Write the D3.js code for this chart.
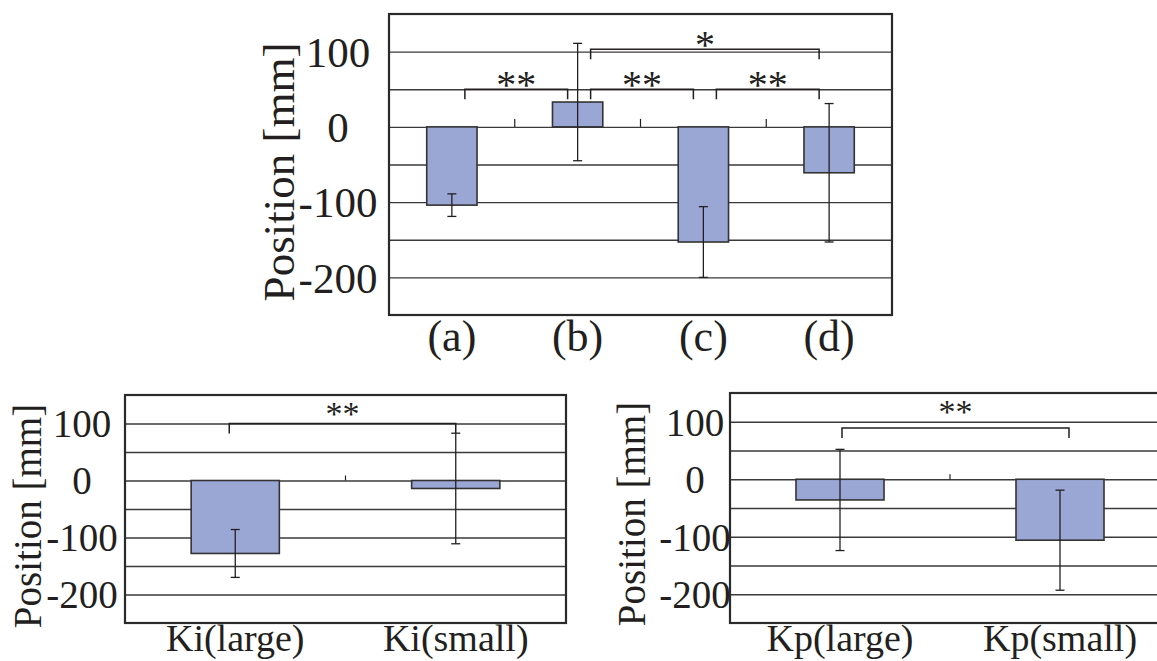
<!DOCTYPE html>
<html>
<head>
<meta charset="utf-8">
<script src="https://cdn.jsdelivr.net/npm/d3@7"></script>
<style>
  html, body { margin: 0; padding: 0; background: #fff; }
  svg { display: block; }
</style>
</head>
<body>
<script>
// ---- data (mean position and standard deviation, mm) ----
const conditionCategories = ["(a)", "(b)", "(c)", "(d)"];
const conditionMeans = [-104, 33, -153, -61];
const conditionErrors = [15, 78, 47, 92];
const conditionBracketPairs = [[0, 1], [1, 2], [2, 3], [1, 3]];
const conditionBracketLevels = [50, 50, 50, 103];
const conditionBracketLabels = ["**", "**", "**", "*"];

const kiCategories = ["Ki(large)", "Ki(small)"];
const kiMeans = [-128, -14];
const kiErrors = [42, 97];
const kiBracketPairs = [[0, 1]];
const kiBracketLevels = [100];
const kiBracketLabels = ["**"];

const kpCategories = ["Kp(large)", "Kp(small)"];
const kpMeans = [-36, -106];
const kpErrors = [88, 87];
const kpBracketPairs = [[0, 1]];
const kpBracketLevels = [89];
const kpBracketLabels = ["**"];

const yDomain = [-250, 150];
const gridValues = [-200, -150, -100, -50, 0, 50, 100];
const yTickLabels = [100, 0, -100, -200];
const yAxisTitle = "Position [mm]";

const W = 1157, H = 661;
const FONT = "'Liberation Serif', 'DejaVu Serif', serif";
const svg = d3.select("body").append("svg")
  .attr("width", W).attr("height", H)
  .attr("viewBox", `0 0 ${W} ${H}`)
  .attr("font-family", FONT);
svg.append("rect").attr("width", W).attr("height", H).attr("fill", "#fff");

const BAR_FILL = "#9aa6d4";
const INK = "#231f20";

function drawPanel(p) {
  const g = svg.append("g");
  const x = d3.scaleBand().domain(p.categories).range([p.left, p.right]).paddingInner(0).paddingOuter(0);
  const y = d3.scaleLinear().domain(yDomain).range([p.bottom, p.top]);
  const bw = x.bandwidth();
  const cx = c => x(c) + bw / 2;
  const rows = p.categories.map((c, i) => ({ c, mean: p.means[i], err: p.errors[i] }));

  // horizontal gridlines
  const grid = g.append("g")
    .attr("transform", `translate(${p.left},0)`)
    .call(d3.axisLeft(y).tickValues(gridValues).tickSize(-(p.right - p.left)).tickFormat(""));
  grid.select(".domain").remove();
  grid.selectAll(".tick line").attr("stroke", "#3a3a3a").attr("stroke-width", 1.3);

  // y tick labels, centred in the margin (plain hyphen for negatives)
  const lab = g.append("g")
    .attr("transform", `translate(${p.labelX},0)`)
    .call(d3.axisLeft(y).tickValues(yTickLabels).tickSize(0).tickPadding(0).tickFormat(d => String(d)));
  lab.attr("font-family", FONT);
  lab.select(".domain").remove();
  lab.selectAll(".tick text")
    .attr("text-anchor", "middle")
    .attr("x", 0)
    .attr("dy", "0.34em")
    .style("font-family", FONT)
    .style("font-size", p.tickFont + "px")
    .attr("fill", INK);

  // bars
  const barW = bw * 0.4;
  g.selectAll("rect.bar").data(rows).join("rect")
    .attr("class", "bar")
    .attr("x", d => cx(d.c) - barW / 2)
    .attr("width", barW)
    .attr("y", d => Math.min(y(d.mean), y(0)))
    .attr("height", d => Math.abs(y(d.mean) - y(0)))
    .attr("fill", BAR_FILL)
    .attr("stroke", "#333")
    .attr("stroke-width", 1.6);

  // error bars
  const cap = 4.5;
  const eb = g.selectAll("g.err").data(rows).join("g").attr("class", "err")
    .attr("stroke", INK).attr("stroke-width", 1.3);
  eb.append("line")
    .attr("x1", d => cx(d.c)).attr("x2", d => cx(d.c))
    .attr("y1", d => y(d.mean + d.err)).attr("y2", d => y(d.mean - d.err));
  eb.append("line")
    .attr("x1", d => cx(d.c) - cap).attr("x2", d => cx(d.c) + cap)
    .attr("y1", d => y(d.mean + d.err)).attr("y2", d => y(d.mean + d.err));
  eb.append("line")
    .attr("x1", d => cx(d.c) - cap).attr("x2", d => cx(d.c) + cap)
    .attr("y1", d => y(d.mean - d.err)).attr("y2", d => y(d.mean - d.err));

  // significance brackets
  p.bracketPairs.forEach((pair, i) => {
    const x1 = cx(p.categories[pair[0]]) + p.insetStart;
    const x2 = cx(p.categories[pair[1]]) + p.insetEnd;
    const yl = y(p.bracketLevels[i]);
    g.append("path")
      .attr("d", `M${x1},${yl + p.legLen}V${yl}H${x2}V${yl + p.legLen}`)
      .attr("fill", "none").attr("stroke", INK).attr("stroke-width", 1.5);
    g.append("text")
      .attr("x", (x1 + x2) / 2)
      .attr("y", yl + p.starDy)
      .attr("text-anchor", "middle")
      .attr("fill", INK)
      .style("font-family", FONT)
      .style("font-size", p.starFont + "px")
      .text(p.bracketLabels[i]);
  });

  // category tick marks on the zero line, pointing up
  const y0 = y(0);
  p.categories.slice(1).forEach(c => {
    g.append("line")
      .attr("x1", x(c)).attr("x2", x(c))
      .attr("y1", y0).attr("y2", y0 - p.tickLen)
      .attr("stroke", INK).attr("stroke-width", 1.2);
  });

  // plot frame
  g.append("rect")
    .attr("x", p.left).attr("y", p.top)
    .attr("width", p.right - p.left).attr("height", p.bottom - p.top)
    .attr("fill", "none").attr("stroke", "#2a2a2a").attr("stroke-width", 2.2);

  // category labels
  g.selectAll("text.cat").data(p.categories).join("text")
    .attr("class", "cat")
    .attr("x", d => cx(d))
    .attr("y", p.catY)
    .attr("text-anchor", "middle")
    .attr("fill", INK)
    .style("font-family", FONT)
    .style("font-size", p.catFont + "px")
    .text(d => d);

  // y-axis title
  g.append("text")
    .attr("transform", `translate(${p.titleX},${p.titleY}) rotate(-90)`)
    .attr("text-anchor", "middle")
    .attr("fill", INK)
    .style("font-family", FONT)
    .style("font-size", p.titleFont + "px")
    .text(yAxisTitle);
}

drawPanel({
  categories: conditionCategories, means: conditionMeans, errors: conditionErrors,
  bracketPairs: conditionBracketPairs, bracketLevels: conditionBracketLevels, bracketLabels: conditionBracketLabels,
  left: 389, right: 892, top: 14, bottom: 315,
  labelX: 338, tickFont: 43, catFont: 44, catY: 351, titleFont: 45, titleX: 294, titleY: 172,
  starFont: 40, starDy: 9, legLen: 10, insetStart: 13, insetEnd: -10, tickLen: 8
});

drawPanel({
  categories: kiCategories, means: kiMeans, errors: kiErrors,
  bracketPairs: kiBracketPairs, bracketLabels: kiBracketLabels, bracketLevels: kiBracketLevels,
  left: 125, right: 566, top: 395, bottom: 623,
  labelX: 82, tickFont: 39, catFont: 38, catY: 651, titleFont: 39, titleX: 41, titleY: 516,
  starFont: 34, starDy: 1, legLen: 10, insetStart: -6, insetEnd: 0, tickLen: 5
});

drawPanel({
  categories: kpCategories, means: kpMeans, errors: kpErrors,
  bracketPairs: kpBracketPairs, bracketLabels: kpBracketLabels, bracketLevels: kpBracketLevels,
  left: 730, right: 1170, top: 393, bottom: 623,
  labelX: 695, tickFont: 39, catFont: 38, catY: 651, titleFont: 39, titleX: 645, titleY: 514,
  starFont: 34, starDy: -5, legLen: 10, insetStart: 2, insetEnd: 9, tickLen: 5
});
</script>
</body>
</html>
